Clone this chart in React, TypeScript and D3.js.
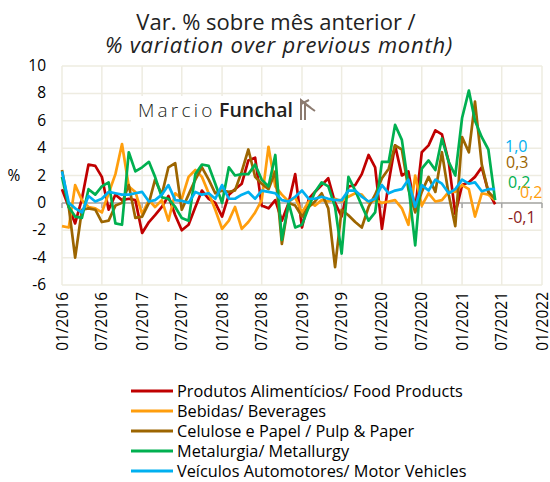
import { useEffect, useRef } from "react";
import * as d3 from "d3";

// monthly % change, 01/2016 .. 06/2021
const food = [
  1.0, -0.3, -1.5, 0.3, 2.8, 2.7, 1.9, -0.5, 0.6, 0.2, 0.3, 0.2, -2.2, -1.4, -0.9, -0.3, 0.5,
  -0.9, -2.0, -1.6, -0.3, 0.9, 0.3, 0.0, -1.0, 0.6, 1.0, 1.4, 3.1, 3.3, -0.2, -0.4, 0.2,
  -1.3, 0.0, 2.1, -1.8, 0.3, 0.8, 1.3, 1.8, 0.0, -1.0, 1.2, 1.3, 2.1, 3.5, 2.6, -1.9, 1.5,
  4.2, 2.0, 2.3, -0.5, 3.7, 4.2, 5.3, 5.0, 3.0, -0.8, 1.3, 1.5, 1.9, 2.6, 0.8, -0.1,
];
const beverages = [
  -1.7, -1.8, 1.3, 0.2, -0.3, -0.4, -0.7, 0.7, 2.1, 4.3, 1.2, 0.8, -0.8, 0.2, -0.3, 0.2, -1.3,
  0.7, 0.3, 1.9, 2.4, 1.9, 0.7, -0.5, -1.9, -1.3, -0.3, -1.9, -1.4, -0.7, 0.2, 4.1, 1.2,
  0.6, 0.1, 0.4, -0.7, 0.1, -0.2, 0.2, 0.1, 0.3, 0.1, 0.45, 0.7, 0.6, 0.0, 0.2, 0.0, 0.1,
  0.2, -0.4, -1.6, 2.0, -0.2, 0.7, 0.1, 0.2, 0.8, 0.8, 1.3, 1.0, -1.0, 0.7, 0.6, 0.2,
];
const pulp = [
  2.4, -0.3, -4.0, -0.5, -0.4, -0.5, -1.4, -1.3, -0.2, 0.0, 1.3, -1.1, -1.0, 0.0, 1.7, 0.6, 2.6,
  2.9, -0.5, 0.6, 1.7, 2.6, 1.7, 0.7, 0.9, 0.8, 0.9, 2.3, 3.9, 1.9, 1.4, 1.0, 2.3,
  -3.0, 0.0, -0.2, -1.0, -0.3, 0.1, 0.7, -0.4, -4.7, -0.5, -0.9, -1.4, -1.8, -0.3, 0.6, 1.8, 2.5,
  4.2, 3.9, 1.0, -0.7, 0.8, 1.9, 0.8, 3.7, 0.6, -1.7, 4.8, 3.7, 7.4, 2.8, 0.8, 0.3,
];
const metallurgy = [
  1.9, -0.3, -1.0, -1.1, 1.0, 0.6, 1.2, 1.5, -1.5, -1.6, 3.7, 2.3, 2.6, 3.0, 1.9, 0.4, 0.3,
  -0.3, -1.1, -1.3, 2.1, 2.8, 2.7, 1.4, 0.0, 2.6, 2.0, 2.1, 2.1, 2.8, 1.7, 1.2, 3.5,
  -2.7, 0.0, -1.8, -1.6, -0.3, 0.8, 1.5, 1.2, -0.3, -3.7, 1.9, 0.9, -0.2, -1.3, -0.7, 3.0, 3.0,
  5.7, 4.6, 1.3, -3.1, 2.5, 3.1, 2.4, 4.7, 3.0, 2.0, 6.2, 8.2, 6.0, 4.8, 3.9, 0.2,
];
const vehicles = [
  2.3, 0.0, -0.4, -0.7, 0.5, 0.1, 0.3, 0.8, 0.7, 0.6, 0.6, 0.7, 0.8, 0.1, 0.2, 0.6, 1.3,
  0.2, 0.15, 0.0, 0.8, 0.6, 0.7, 0.3, 1.3, 0.3, 0.3, 0.6, 0.8, 0.3, 0.9, 0.8, 0.7,
  0.2, 0.1, 0.45, 0.9, 0.3, 0.3, 0.45, 0.3, 0.2, 0.2, 0.9, 0.9, 0.45, 0.1, 0.3, 1.3, 0.7,
  0.9, 1.0, 1.7, -0.3, 1.3, 0.9, 1.7, 1.4, 0.7, 1.0, 1.7, 1.4, 1.5, 0.85, 1.0, 1.0,
];

const tickLabels = [
  "01/2016", "07/2016", "01/2017", "07/2017", "01/2018", "07/2018", "01/2019",
  "07/2019", "01/2020", "07/2020", "01/2021", "07/2021", "01/2022",
];
const yTicks = [10, 8, 6, 4, 2, 0, -2, -4, -6];

const seriesNames = [
  "Produtos Alimentícios/ Food Products",
  "Bebidas/ Beverages",
  "Celulose e Papel / Pulp & Paper",
  "Metalurgia/ Metallurgy",
  "Veículos Automotores/ Motor Vehicles",
];
const seriesValues = [food, beverages, pulp, metallurgy, vehicles];
const colors = ["#C00000", "#FF9E0D", "#9C6500", "#00B050", "#00B0F0"];

// end-of-series callouts: [series index, x, baseline y, colour]
const callouts: [number, number, number, string][] = [
  [4, 505, 152, "#00B0F0"],
  [2, 506, 168, "#9C6500"],
  [3, 508, 188, "#00B050"],
  [1, 520, 198, "#FF9E0D"],
  [0, 508, 223, "#8B1A1A"],
];

const FONT = "'Open Sans', 'DejaVu Sans', sans-serif";

export default function App() {
  const ref = useRef<SVGSVGElement>(null);

  useEffect(() => {
    const svg = d3.select(ref.current);
    svg.selectAll("*").remove();

    const left = 62, right = 542, top = 66, bottom = 285;
    const parse = d3.timeParse("%m/%Y");
    const x = d3.scaleTime()
      .domain([parse(tickLabels[0])!, parse(tickLabels[tickLabels.length - 1])!])
      .range([left, right]);
    const y = d3.scaleLinear().domain([-6, 10]).range([bottom, top]);
    const months = food.map((_, i) => new Date(2016, i, 1));

    // title
    const title = svg.append("g").attr("font-family", FONT).attr("fill", "#222").attr("font-size", 22);
    title.append("text").attr("x", 276).attr("y", 30).attr("text-anchor", "middle")
      .text("Var. % sobre mês anterior /");
    title.append("text").attr("x", 279).attr("y", 53).attr("text-anchor", "middle")
      .attr("font-style", "italic").attr("letter-spacing", 0.8).text("% variation over previous month)");

    // grid
    const grid = svg.append("g").attr("stroke", "#EEECE1").attr("stroke-width", 1.5);
    grid.selectAll("line.h").data(yTicks).join("line")
      .attr("x1", left).attr("x2", right)
      .attr("y1", (d) => y(d)).attr("y2", (d) => y(d));
    grid.selectAll("line.v").data(tickLabels).join("line")
      .attr("x1", (d) => x(parse(d)!)).attr("x2", (d) => x(parse(d)!))
      .attr("y1", top).attr("y2", bottom);

    // logo box
    const logo = svg.append("g");
    logo.append("rect").attr("x", 131).attr("y", 96).attr("width", 189).attr("height", 32).attr("fill", "#fff");
    logo.append("text").attr("x", 138).attr("y", 117).attr("font-family", FONT).attr("font-size", 19)
      .attr("font-weight", 300).attr("letter-spacing", 3.2).attr("fill", "#231F20").text("Marcio");
    logo.append("text").attr("x", 219).attr("y", 117).attr("font-family", FONT).attr("font-size", 19.5)
      .attr("font-weight", 600).attr("fill", "#231F20").text("Funchal");
    logo.append("path")
      .attr("d", "M301,120 V100 L311,108 M305,120 V104 L315,111 M301,104 L309,100")
      .attr("fill", "none").attr("stroke", "#8C7B70").attr("stroke-width", 2);

    // zero axis with ticks
    const axis = svg.append("g").attr("stroke", "#A6A6A6").attr("stroke-width", 1.5);
    axis.append("line").attr("x1", left).attr("x2", right).attr("y1", y(0)).attr("y2", y(0));
    axis.selectAll("line.t").data(tickLabels).join("line")
      .attr("x1", (d) => x(parse(d)!)).attr("x2", (d) => x(parse(d)!))
      .attr("y1", y(0)).attr("y2", y(0) + 5);

    // y labels
    svg.append("g").attr("font-family", FONT).attr("font-size", 15.5).attr("fill", "#000")
      .selectAll("text").data(yTicks).join("text")
      .attr("x", 46).attr("y", (d) => y(d) + 5).attr("text-anchor", "end").text((d) => d);
    svg.append("text").attr("x", 14).attr("y", 181).attr("font-family", FONT).attr("font-size", 15.5)
      .attr("text-anchor", "middle").text("%");

    // x labels (rotated)
    svg.append("g").attr("font-family", FONT).attr("font-size", 15.5).attr("fill", "#000")
      .selectAll("text").data(tickLabels).join("text")
      .attr("transform", (d) => `translate(${x(parse(d)!) + 5.5},292) rotate(-90)`)
      .attr("text-anchor", "end").text((d) => d);

    // lines
    const line = d3.line<number>().x((_, i) => x(months[i])).y((d) => y(d));
    svg.append("g").selectAll("path").data(seriesValues).join("path")
      .attr("d", (d) => line(d))
      .attr("fill", "none").attr("stroke", (_, i) => colors[i])
      .attr("stroke-width", 2.7).attr("stroke-linejoin", "round");

    // callouts
    const fmt = (v: number) => d3.format(".1f")(v).replace(".", ",").replace("−", "-");
    svg.append("g").attr("font-family", FONT).attr("font-size", 16)
      .selectAll("text").data(callouts).join("text")
      .attr("x", (d) => d[1]).attr("y", (d) => d[2]).attr("fill", (d) => d[3])
      .text((d) => { const vals = seriesValues[d[0]]; return fmt(vals[vals.length - 1]); });

    // legend
    const leg = svg.append("g").attr("font-family", FONT).attr("font-size", 16.3);
    const rows = leg.selectAll("g").data(seriesNames).join("g")
      .attr("transform", (_, i) => `translate(131,${391 + i * 20})`);
    rows.append("line").attr("x1", 0).attr("x2", 42).attr("stroke", (_, i) => colors[i]).attr("stroke-width", 3);
    rows.append("text").attr("x", 46).attr("y", 5.5).attr("fill", "#000").text((d) => d);
  }, []);

  return (
    <svg ref={ref} width={550} height={482}
      style={{ position: "absolute", left: 0, top: 0, background: "#fff" }} />
  );
}
